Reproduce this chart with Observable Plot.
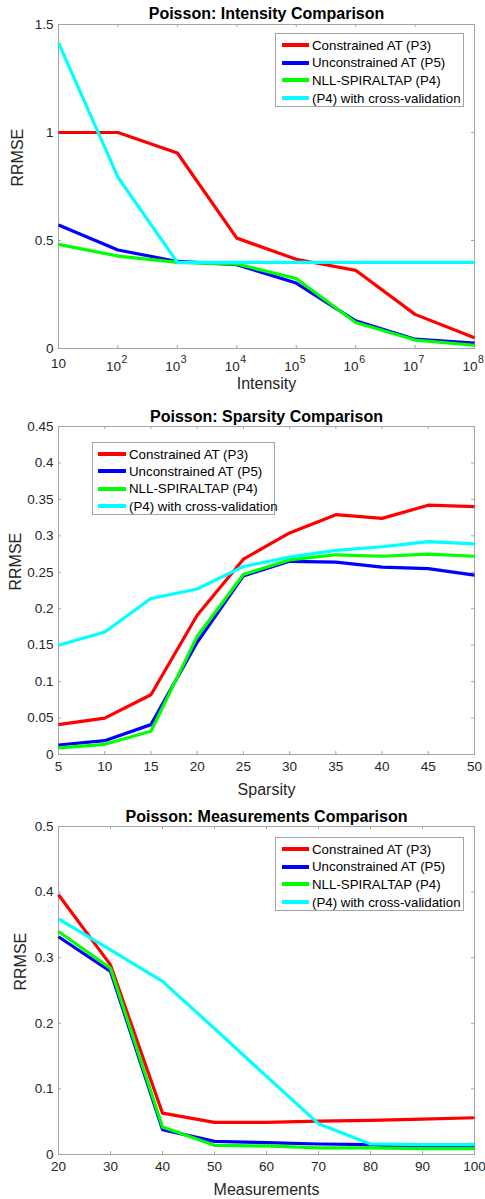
<!DOCTYPE html>
<html><head><meta charset="utf-8">
<script src="https://cdn.jsdelivr.net/npm/d3@7"></script>
<script src="https://cdn.jsdelivr.net/npm/@observablehq/plot@0.6"></script>
<style>
body{margin:0;background:#fff;font-family:"Liberation Sans",Arial,sans-serif;}
.panel{position:relative;width:485px;overflow:hidden;}
.panel svg{display:block;}
.legend{position:absolute;background:#fff;border:1px solid #a5a5a5;box-sizing:border-box;font-size:13.3px;color:#000;}
.row{position:absolute;height:18px;display:flex;align-items:center;white-space:nowrap;}
.sw{display:inline-block;height:4px;margin-right:3px;}
</style></head><body><div id="chart"></div>
<script>
// ---- shared series ----
const seriesNames = ["Constrained AT (P3)", "Unconstrained AT (P5)", "NLL-SPIRALTAP (P4)", "(P4) with cross-validation"];
const seriesColors = ["#ff0000", "#0000ff", "#00ff00", "#00ffff"];

// ---- Panel 1: Intensity ----
const intensityX = [10, 1e2, 1e3, 1e4, 1e5, 1e6, 1e7, 1e8];
const intensityExp = ["", "2", "3", "4", "5", "6", "7", "8"];
const intensityConstrained = [1.0, 1.0, 0.905, 0.511, 0.413, 0.362, 0.158, 0.050];
const intensityUnconstrained = [0.572, 0.456, 0.403, 0.388, 0.303, 0.128, 0.043, 0.025];
const intensityNLL = [0.482, 0.428, 0.399, 0.391, 0.324, 0.120, 0.039, 0.015];
const intensityCV = [1.415, 0.793, 0.399, 0.399, 0.399, 0.399, 0.399, 0.399];
const intensityYTicks = [0, 0.5, 1, 1.5];

// ---- Panel 2: Sparsity ----
const sparsityX = [5, 10, 15, 20, 25, 30, 35, 40, 45, 50];
const sparsityConstrained = [0.041, 0.050, 0.082, 0.191, 0.268, 0.304, 0.329, 0.324, 0.342, 0.340];
const sparsityUnconstrained = [0.013, 0.019, 0.041, 0.154, 0.245, 0.265, 0.264, 0.257, 0.255, 0.246];
const sparsityNLL = [0.009, 0.014, 0.032, 0.162, 0.247, 0.267, 0.274, 0.272, 0.275, 0.272];
const sparsityCV = [0.150, 0.168, 0.214, 0.227, 0.258, 0.271, 0.280, 0.285, 0.292, 0.289];
const sparsityYTicks = [0, 0.05, 0.1, 0.15, 0.2, 0.25, 0.3, 0.35, 0.4, 0.45];

// ---- Panel 3: Measurements ----
const measX = [20, 30, 40, 50, 60, 70, 80, 90, 100];
const measConstrained = [0.396, 0.289, 0.063, 0.049, 0.049, 0.051, 0.052, 0.054, 0.056];
const measUnconstrained = [0.332, 0.279, 0.038, 0.020, 0.018, 0.016, 0.015, 0.011, 0.011];
const measNLL = [0.340, 0.284, 0.042, 0.014, 0.013, 0.010, 0.010, 0.009, 0.009];
const measCV = [0.359, 0.312, 0.264, 0.192, 0.119, 0.047, 0.016, 0.015, 0.015];
const measYTicks = [0, 0.1, 0.2, 0.3, 0.4, 0.5];

const FONT = '"Liberation Sans", Arial, sans-serif';
const AXIS_GRAY = "#a5a5a5";
const TEXT_DARK = "#262626";

function buildRows(xs, ys) {
  const rows = [];
  ys.forEach((arr, i) => arr.forEach((v, j) => rows.push({series: seriesNames[i], x: xs[j], y: v})));
  return rows;
}

function makePanel(cfg) {
  const W = 485, mL = 58, mR = 11;
  const fw = W - mL - mR;
  const fh = cfg.height - cfg.mT - cfg.mB;
  const rows = buildRows(cfg.xs, cfg.ys);
  const marks = [
    Plot.frame({stroke: AXIS_GRAY}),
    // inward ticks on all four sides
    Plot.tickX(cfg.xTicks, {x: d => d, stroke: AXIS_GRAY, insetTop: fh - 3}),
    Plot.tickX(cfg.xTicks, {x: d => d, stroke: AXIS_GRAY, insetBottom: fh - 3}),
    Plot.tickY(cfg.yTicks, {y: d => d, stroke: AXIS_GRAY, insetRight: fw - 3}),
    Plot.tickY(cfg.yTicks, {y: d => d, stroke: AXIS_GRAY, insetLeft: fw - 3}),
    Plot.axisY({ticks: cfg.yTicks, tickSize: 0, tickPadding: 5, label: null, tickFormat: d => String(d), fontSize: 13.5, fill: TEXT_DARK}),
    Plot.line(rows, {x: "x", y: "y", z: "series", stroke: "series", strokeWidth: 3.2, strokeLinejoin: "round", strokeLinecap: "butt"}),
    Plot.text([cfg.title], {frameAnchor: "top", dy: cfg.titleDy, fontWeight: "bold", fontSize: 16, fill: "#000", lineAnchor: "middle"}),
    Plot.text([cfg.xLabel], {frameAnchor: "bottom", dy: 35, fontSize: 16, fill: TEXT_DARK, lineAnchor: "middle"}),
    Plot.text(["RRMSE"], {frameAnchor: "left", dx: -cfg.yLabelOffset, rotate: -90, fontSize: 16, fill: TEXT_DARK, lineAnchor: "middle"})
  ];
  if (cfg.logX) {
    const base = cfg.xTicks.map((t, i) => ({t, e: cfg.exps[i]}));
    marks.push(
      Plot.text(base.filter(d => d.e === ""), {x: "t", text: () => "10", frameAnchor: "bottom", dy: 15, fontSize: 13.5, fill: TEXT_DARK, lineAnchor: "middle"}),
      Plot.text(base.filter(d => d.e !== ""), {x: "t", text: () => "10", frameAnchor: "bottom", dy: 18, dx: 3, textAnchor: "end", fontSize: 13.5, fill: TEXT_DARK, lineAnchor: "middle"}),
      Plot.text(base.filter(d => d.e !== ""), {x: "t", text: "e", frameAnchor: "bottom", dy: 11, dx: 3.5, textAnchor: "start", fontSize: 10.5, fill: TEXT_DARK, lineAnchor: "middle"})
    );
  } else {
    marks.push(Plot.axisX({ticks: cfg.xTicks, tickSize: 0, tickPadding: 7, label: null, tickFormat: d => String(d), fontSize: 13.5, fill: TEXT_DARK}));
  }
  const svg = Plot.plot({
    width: W, height: cfg.height,
    marginLeft: mL, marginRight: mR, marginTop: cfg.mT, marginBottom: cfg.mB,
    style: {fontFamily: FONT, fontSize: "13.5px", background: "#fff", color: TEXT_DARK, overflow: "visible"},
    x: cfg.logX ? {type: "log", domain: cfg.xDomain, axis: null} : {domain: cfg.xDomain, axis: null},
    y: {domain: cfg.yDomain, axis: null},
    color: {domain: seriesNames, range: seriesColors},
    marks
  });
  const div = document.createElement("div");
  div.className = "panel";
  div.style.height = cfg.height + "px";
  div.appendChild(svg);
  const lg = document.createElement("div");
  lg.className = "legend";
  const L = cfg.legend;
  lg.style.left = L.left + "px"; lg.style.top = L.top + "px";
  lg.style.width = L.width + "px"; lg.style.height = L.height + "px";
  seriesNames.forEach((name, i) => {
    const r = document.createElement("div");
    r.className = "row";
    r.style.left = L.padLeft + "px";
    r.style.top = (L.firstRow - L.top - 9 + i * L.step) + "px";
    const sw = document.createElement("span");
    sw.className = "sw";
    sw.style.width = L.swatch + "px";
    sw.style.background = seriesColors[i];
    r.appendChild(sw);
    r.appendChild(document.createTextNode(name));
    lg.appendChild(r);
  });
  div.appendChild(lg);
  return div;
}

const chart = document.getElementById("chart");
chart.appendChild(makePanel({
  title: "Poisson: Intensity Comparison", xLabel: "Intensity",
  xs: intensityX, ys: [intensityConstrained, intensityUnconstrained, intensityNLL, intensityCV],
  logX: true, xDomain: [10, 1e8], xTicks: intensityX, exps: intensityExp,
  yDomain: [0, 1.5], yTicks: intensityYTicks,
  height: 400, mT: 24, mB: 52, titleDy: -11, yLabelOffset: 41,
  legend: {left: 275, top: 33, width: 189, height: 74, padLeft: 6, firstRow: 44, step: 17.7, swatch: 27}
}));
chart.appendChild(makePanel({
  title: "Poisson: Sparsity Comparison", xLabel: "Sparsity",
  xs: sparsityX, ys: [sparsityConstrained, sparsityUnconstrained, sparsityNLL, sparsityCV],
  logX: false, xDomain: [5, 50], xTicks: sparsityX,
  yDomain: [0, 0.45], yTicks: sparsityYTicks,
  height: 400, mT: 26, mB: 46, titleDy: -10, yLabelOffset: 43,
  legend: {left: 92, top: 42, width: 183, height: 73, padLeft: 5, firstRow: 53, step: 17.4, swatch: 28}
}));
chart.appendChild(makePanel({
  title: "Poisson: Measurements Comparison", xLabel: "Measurements",
  xs: measX, ys: [measConstrained, measUnconstrained, measNLL, measCV],
  logX: false, xDomain: [20, 100], xTicks: measX,
  yDomain: [0, 0.5], yTicks: measYTicks,
  height: 399, mT: 26, mB: 45, titleDy: -10, yLabelOffset: 38,
  legend: {left: 275, top: 37, width: 189, height: 74, padLeft: 6, firstRow: 48, step: 17.7, swatch: 27}
}));
</script></body></html>
